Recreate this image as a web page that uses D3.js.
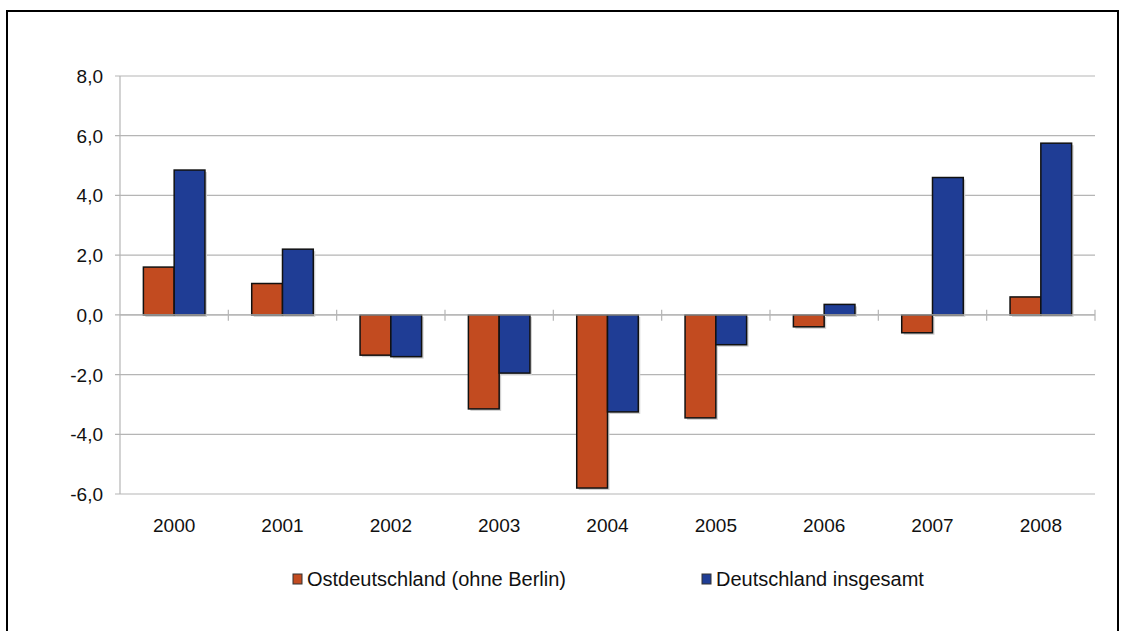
<!DOCTYPE html>
<html>
<head>
<meta charset="utf-8">
<script src="https://cdn.jsdelivr.net/npm/d3@7"></script>
<style>
  body { margin: 0; background: #fff; }
  text { font-family: "Liberation Sans", Arial, sans-serif; }
</style>
</head>
<body>
<svg id="chart"></svg>
<script>
const width = 1123;
const height = 631;

// Daten
const years = ["2000", "2001", "2002", "2003", "2004", "2005", "2006", "2007", "2008"];
const ost = [1.6, 1.05, -1.35, -3.15, -5.8, -3.45, -0.4, -0.6, 0.6];
const gesamt = [4.85, 2.2, -1.4, -1.95, -3.25, -1.0, 0.35, 4.6, 5.75];
const seriesNames = ["Ostdeutschland (ohne Berlin)", "Deutschland insgesamt"];
const colors = ["#c24b20", "#1f3d95"];
const yTicks = [-6, -4, -2, 0, 2, 4, 6, 8];

const margin = {left: 120, right: 1095, top: 76, bottom: 494};

const svg = d3.select("#chart")
    .attr("width", width)
    .attr("height", height);

// Rahmen
svg.append("rect")
    .attr("x", 7).attr("y", 11)
    .attr("width", 1111).attr("height", 640)
    .attr("fill", "none")
    .attr("stroke", "#000")
    .attr("stroke-width", 2);

const x = d3.scaleBand()
    .domain(years)
    .range([margin.left, margin.right]);

const x1 = d3.scaleBand()
    .domain([0, 1])
    .range([0, x.bandwidth()])
    .paddingOuter(0.76)
    .paddingInner(0);

const y = d3.scaleLinear()
    .domain([-6, 8])
    .range([margin.bottom, margin.top]);

const fmt = d => d.toFixed(1).replace(".", ",");

// Gitterlinien
svg.append("g")
    .selectAll("line")
    .data(yTicks)
    .join("line")
    .attr("x1", margin.left - 5)
    .attr("x2", margin.right)
    .attr("y1", d => y(d))
    .attr("y2", d => y(d))
    .attr("stroke", "#b5b5b5")
    .attr("stroke-width", 1.2);

// y-Achse
svg.append("line")
    .attr("x1", margin.left).attr("x2", margin.left)
    .attr("y1", margin.top).attr("y2", margin.bottom)
    .attr("stroke", "#b5b5b5")
    .attr("stroke-width", 1.2);

svg.append("g")
    .selectAll("text")
    .data(yTicks)
    .join("text")
    .attr("x", 103)
    .attr("y", d => y(d) + 7)
    .attr("text-anchor", "end")
    .attr("font-size", 19)
    .attr("fill", "#111")
    .text(fmt);

// Balken
const data = years.map((yr, i) => ({year: yr, values: [ost[i], gesamt[i]]}));

const groups = svg.append("g")
    .selectAll("g")
    .data(data)
    .join("g")
    .attr("transform", d => `translate(${x(d.year)},0)`);

// Schatten
groups.selectAll("rect.shadow")
    .data(d => d.values.map((v, k) => ({v, k})))
    .join("rect")
    .attr("class", "shadow")
    .attr("x", d => x1(d.k) + 2)
    .attr("y", d => Math.min(y(d.v), y(0)) + 2)
    .attr("width", x1.bandwidth())
    .attr("height", d => Math.abs(y(d.v) - y(0)))
    .attr("fill", "#d0d0d0");

groups.selectAll("rect.bar")
    .data(d => d.values.map((v, k) => ({v, k})))
    .join("rect")
    .attr("class", "bar")
    .attr("x", d => x1(d.k))
    .attr("y", d => Math.min(y(d.v), y(0)))
    .attr("width", x1.bandwidth())
    .attr("height", d => Math.abs(y(d.v) - y(0)))
    .attr("fill", d => colors[d.k])
    .attr("stroke", "#111")
    .attr("stroke-width", 1.5);

// Nulllinie mit Strichen
svg.append("line")
    .attr("x1", margin.left).attr("x2", margin.right)
    .attr("y1", y(0)).attr("y2", y(0))
    .attr("stroke", "#b5b5b5")
    .attr("stroke-width", 1.2);

svg.append("g")
    .selectAll("line")
    .data(years.map(yr => x(yr)).concat([margin.right]).slice(1))
    .join("line")
    .attr("x1", d => d).attr("x2", d => d)
    .attr("y1", y(0) - 5).attr("y2", y(0) + 6)
    .attr("stroke", "#b5b5b5")
    .attr("stroke-width", 1.2);

// x-Beschriftung
svg.append("g")
    .selectAll("text")
    .data(years)
    .join("text")
    .attr("x", d => x(d) + x.bandwidth() / 2)
    .attr("y", 532)
    .attr("text-anchor", "middle")
    .attr("font-size", 19)
    .attr("fill", "#111")
    .text(d => d);

// Legende
const legendX = [293, 702];
const legend = svg.append("g")
    .selectAll("g")
    .data(seriesNames)
    .join("g")
    .attr("transform", (d, i) => `translate(${legendX[i]},574)`);

legend.append("rect")
    .attr("width", 9).attr("height", 10)
    .attr("fill", (d, i) => colors[i])
    .attr("stroke", "#333")
    .attr("stroke-width", 1);

legend.append("text")
    .attr("x", 14)
    .attr("y", 12)
    .attr("font-size", 20)
    .attr("fill", "#111")
    .text(d => d);
</script>
</body>
</html>
